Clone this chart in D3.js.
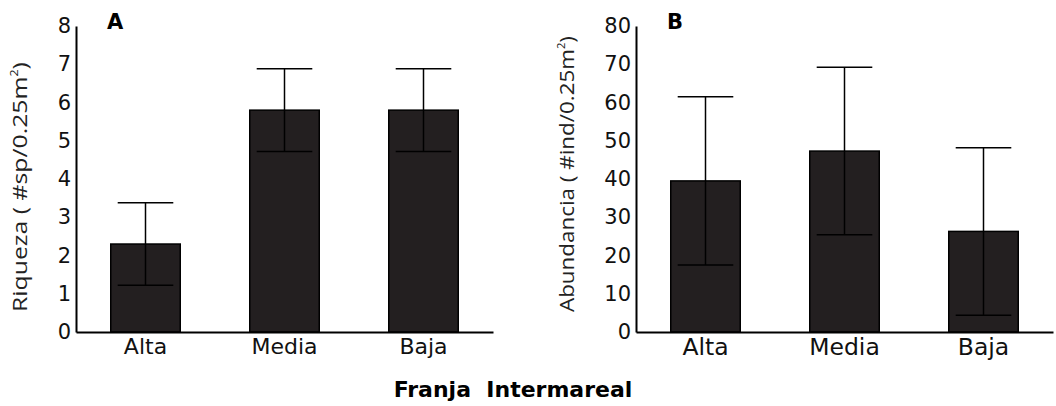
<!DOCTYPE html>
<html>
<head>
<meta charset="utf-8">
<script src="https://cdn.jsdelivr.net/npm/d3@7"></script>
<style>
  body { margin: 0; background: #fff; }
  svg { display: block; }
  .tick text { font-family: "DejaVu Sans", Verdana, sans-serif; fill: #111; }
</style>
</head>
<body>
<div id="chart"></div>
<script>
var franjas = ["Alta", "Media", "Baja"];
// panel A: riqueza
var riquezaMean = [2.3, 5.8, 5.8];
var riquezaSd = [1.08, 1.08, 1.08];
var riquezaTicks = [0, 1, 2, 3, 4, 5, 6, 7, 8];
// panel B: abundancia
var abundMean = [39.5, 47.3, 26.3];
var abundSd = [22.0, 21.9, 21.9];
var abundTicks = [0, 10, 20, 30, 40, 50, 60, 70, 80];

var width = 1056, height = 406;
var color_bar = "#231f20";

var svg = d3.select("#chart")
    .append("svg")
    .attr("width", width)
    .attr("height", height);

function drawPanel(opts){
    let g = svg.append("g").attr("transform", "translate(" + opts.left + ",26)");
    let w = 417, h = 306;

    let x = d3.scaleBand().domain(franjas).range([0, w])
        .paddingInner(0.5).paddingOuter(0.25);
    let y = d3.scaleLinear().domain([0, opts.max]).range([h, 0]);

    //bars
    g.selectAll("rect.bar")
        .data(franjas)
        .enter()
        .append("rect")
        .classed("bar", true)
        .attr("x", d => x(d))
        .attr("width", x.bandwidth())
        .attr("y", (d, i) => y(opts.mean[i]))
        .attr("height", (d, i) => h - y(opts.mean[i]))
        .style("fill", color_bar)
        .style("stroke", "#000")
        .style("stroke-width", 1.5);

    //error bars
    let cap = x.bandwidth() * 0.4;
    franjas.forEach((d, i) => {
        let cx = x(d) + x.bandwidth() / 2;
        let hi = opts.mean[i] + opts.sd[i], lo = opts.mean[i] - opts.sd[i];
        let eb = g.append("g").style("stroke", "#000").style("stroke-width", 1.5);
        eb.append("line").attr("x1", cx).attr("x2", cx).attr("y1", y(hi)).attr("y2", y(lo));
        eb.append("line").attr("x1", cx - cap).attr("x2", cx + cap).attr("y1", y(hi)).attr("y2", y(hi));
        eb.append("line").attr("x1", cx - cap).attr("x2", cx + cap).attr("y1", y(lo)).attr("y2", y(lo));
    });

    //axes
    let yAxis = g.append("g")
        .call(d3.axisLeft(y).tickValues(opts.ticks).tickSize(0).tickPadding(5).tickSizeOuter(0));
    yAxis.selectAll("text").style("font-size", "21px");
    yAxis.select(".domain").style("stroke", "#000").style("stroke-width", 2);

    let xAxis = g.append("g")
        .attr("transform", "translate(0," + h + ")")
        .call(d3.axisBottom(x).tickSize(0).tickPadding(6).tickSizeOuter(0));
    xAxis.selectAll("text").style("font-size", opts.xFont + "px");
    xAxis.select(".domain").style("stroke", "#000").style("stroke-width", 2);

    //panel letter
    svg.append("text")
        .attr("x", opts.left + 31)
        .attr("y", 29)
        .style("font-family", "DejaVu Sans, Verdana, sans-serif")
        .style("font-weight", "bold")
        .style("font-size", "21px")
        .text(opts.letter);

    //y label (stretched along its length like the original)
    let lab = svg.append("text")
        .attr("transform", "translate(" + opts.labelX + ",312) rotate(-90) scale(" + opts.labelScale + ",1)")
        .style("font-family", "Open Sans, sans-serif")
        .style("font-size", "20px")
        .style("fill", "#222");
    lab.append("tspan").text(opts.label);
    lab.append("tspan").attr("dy", -9).style("font-size", "10px").text("2");
    lab.append("tspan").attr("dy", 9).text(")");
}

drawPanel({left: 76, max: 8, mean: riquezaMean, sd: riquezaSd, ticks: riquezaTicks,
    letter: "A", label: "Riqueza ( #sp/0.25m", labelX: 27, labelScale: 1.24, xFont: 22});
drawPanel({left: 636, max: 80, mean: abundMean, sd: abundSd, ticks: abundTicks,
    letter: "B", label: "Abundancia ( #ind/0.25m", labelX: 574, labelScale: 1.12, xFont: 23.5});

svg.append("text")
    .attr("x", 513)
    .attr("y", 397)
    .attr("text-anchor", "middle")
    .style("font-family", "DejaVu Sans, Verdana, sans-serif")
    .style("font-weight", "bold")
    .style("font-size", "22px")
    .style("white-space", "pre")
    .text("Franja  Intermareal");
</script>
</body>
</html>
